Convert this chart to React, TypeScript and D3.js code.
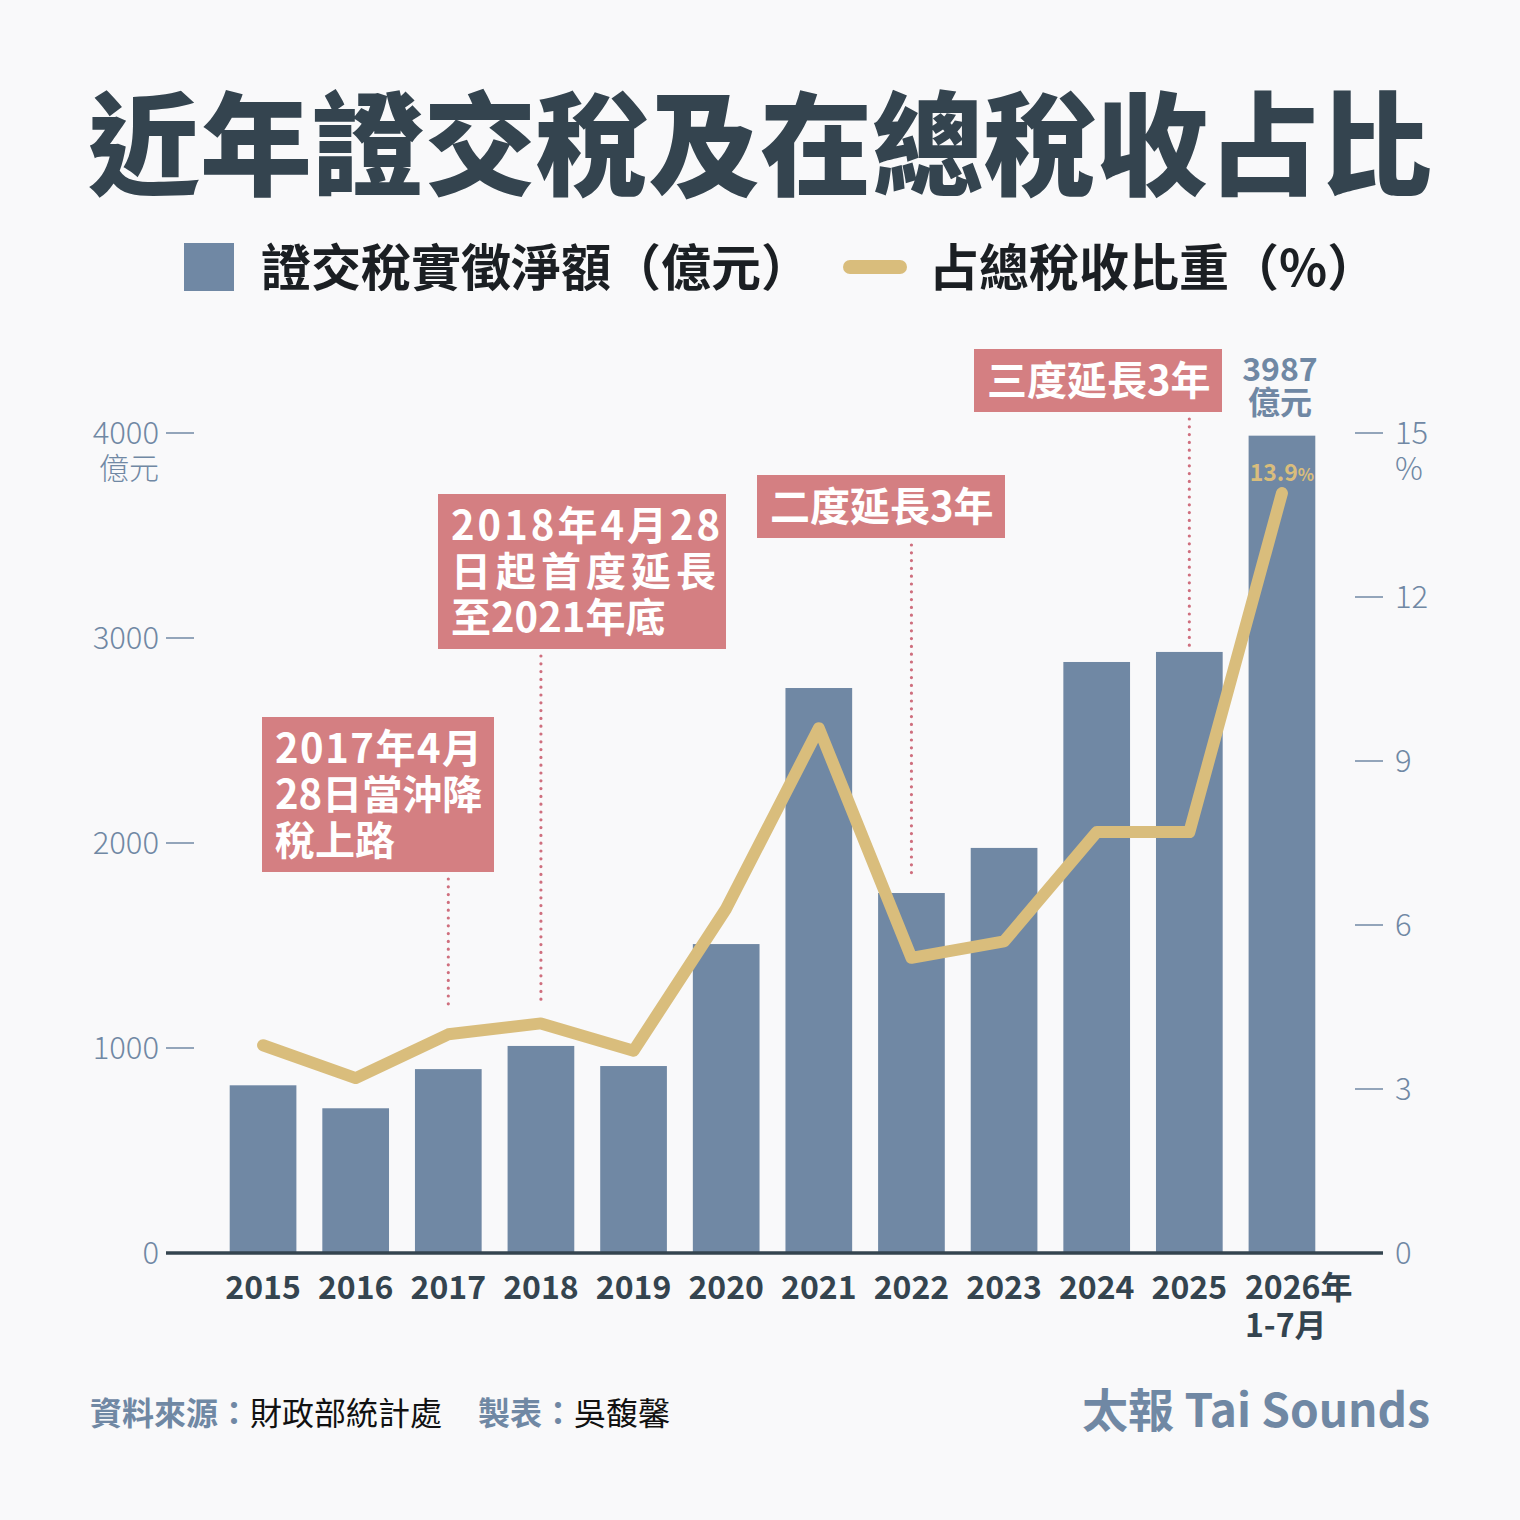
import { line, scaleBand, scaleLinear } from 'd3'

const WIDTH = 1520
const HEIGHT = 1520
const FONT = '"Noto Sans CJK TC", "Noto Sans CJK SC", "Noto Sans", sans-serif'

const BG = '#f9f9fa'
const DARK = '#34444f'
const BLUE = '#7088a4'
const GOLD = '#d9bd7c'
const PINK = '#d47f82'
const DOT = '#cf6f7e'

const years = ['2015', '2016', '2017', '2018', '2019', '2020', '2021', '2022', '2023', '2024', '2025', '2026']
const yearLabels = [
  ['2015'], ['2016'], ['2017'], ['2018'], ['2019'], ['2020'],
  ['2021'], ['2022'], ['2023'], ['2024'], ['2025'], ['2026年', '1-7月'],
]
// 證交稅實徵淨額（億元）
const taxValues = [818, 706, 897, 1010, 912, 1507, 2756, 1756, 1976, 2883, 2932, 3987]
// 占總稅收比重（%）
const shareValues = [3.8, 3.2, 4.0, 4.2, 3.7, 6.3, 9.6, 5.4, 5.7, 7.7, 7.7, 13.9]

const leftTicks = [0, 1000, 2000, 3000, 4000]
const rightTicks = [0, 3, 6, 9, 12, 15]

const noteYears = ['2017', '2018', '2022', '2025']
const noteLines = [
  ['2017年4月', '28日當沖降', '稅上路'],
  ['2018年4月28', '日起首度延長', '至2021年底'],
  ['二度延長3年'],
  ['三度延長3年'],
]

// box layout for the notes: left, top, width, text spacing, gap above the mark
const noteBoxes = [
  { x: 262, y: 717, w: 232, spacing: [1.5, 0, 0], gap: 29 },
  { x: 438, y: 494, w: 288, spacing: [3, 5, 0], gap: 18 },
  { x: 757, y: 475, w: 248, spacing: [0], gap: 13 },
  { x: 974, y: 349, w: 248, spacing: [0], gap: 4 },
]

const BASE_Y = 1253
const TOP_Y = 433
const AXIS_X0 = 166
const AXIS_X1 = 1383

export default function App() {
  const x = scaleBand<string>().domain(years).range([229.7, 1315.3]).paddingInner(0.28).paddingOuter(0)
  const yLeft = scaleLinear().domain([0, 4000]).range([BASE_Y, TOP_Y])
  const yRight = scaleLinear().domain([0, 15]).range([BASE_Y, TOP_Y])
  const cx = (year: string) => (x(year) ?? 0) + x.bandwidth() / 2

  const sharePath = line<number>()
    .x((_, i) => cx(years[i]))
    .y((v) => yRight(v))

  const last = years.length - 1
  const lastX = cx(years[last])

  return (
    <svg
      width={WIDTH}
      height={HEIGHT}
      viewBox={`0 0 ${WIDTH} ${HEIGHT}`}
      style={{ position: 'absolute', left: 0, top: 0, fontFamily: FONT }}
    >
      <rect width={WIDTH} height={HEIGHT} fill={BG} />

      <text x={88} y={187} fontSize={112} fontWeight={900} fill={DARK}>
        近年證交稅及在總稅收占比
      </text>

      {/* legend */}
      <rect x={184} y={243} width={50} height={48} fill={BLUE} />
      <text x={261} y={286} fontSize={50} fontWeight={700} fill="#1b1f23">
        證交稅實徵淨額（億元）
      </text>
      <line x1={850} x2={900} y1={267} y2={267} stroke={GOLD} strokeWidth={14} strokeLinecap="round" />
      <text x={929} y={286} fontSize={50} fontWeight={700} fill="#1b1f23">
        占總稅收比重（%）
      </text>

      {/* left axis */}
      {leftTicks.map((t) => (
        <g key={`l${t}`} fill={BLUE}>
          {t > 0 && <line x1={AXIS_X0} x2={194} y1={yLeft(t)} y2={yLeft(t)} stroke={BLUE} strokeWidth={1.5} />}
          <text x={159} y={yLeft(t) + 11} fontSize={31} fontWeight={300} textAnchor="end">
            {t}
          </text>
        </g>
      ))}
      <text x={159} y={yLeft(4000) + 46} fontSize={30} fontWeight={300} textAnchor="end" fill={BLUE}>
        億元
      </text>

      {/* right axis */}
      {rightTicks.map((t) => (
        <g key={`r${t}`} fill={BLUE}>
          {t > 0 && <line x1={1355} x2={AXIS_X1} y1={yRight(t)} y2={yRight(t)} stroke={BLUE} strokeWidth={1.5} />}
          <text x={1395} y={yRight(t) + 11} fontSize={31} fontWeight={300}>
            {t}
          </text>
        </g>
      ))}
      <text x={1395} y={yRight(15) + 47} fontSize={31} fontWeight={300} fill={BLUE}>
        %
      </text>

      {/* bars */}
      {taxValues.map((v, i) => (
        <rect
          key={years[i]}
          x={x(years[i])}
          y={yLeft(v)}
          width={x.bandwidth()}
          height={BASE_Y - yLeft(v)}
          fill={BLUE}
        />
      ))}

      {/* note boxes and dotted leaders */}
      {noteYears.map((year, n) => {
        const box = noteBoxes[n]
        const lines = noteLines[n]
        const h = lines.length * 46 + 17
        const i = years.indexOf(year)
        const endY = Math.min(yLeft(taxValues[i]), yRight(shareValues[i])) - box.gap
        return (
          <g key={year}>
            <line
              x1={cx(year)}
              x2={cx(year)}
              y1={box.y + h + 7}
              y2={endY}
              stroke={DOT}
              strokeWidth={3.2}
              strokeLinecap="round"
              strokeDasharray="0 7.8"
            />
            <rect x={box.x} y={box.y} width={box.w} height={h} fill={PINK} />
            {lines.map((s, k) => (
              <text
                key={k}
                x={box.x + 13}
                y={box.y + 46 + k * 46}
                fontSize={40}
                fontWeight={700}
                fill="#ffffff"
                letterSpacing={box.spacing[k]}
              >
                {s}
              </text>
            ))}
          </g>
        )
      })}

      {/* share line */}
      <path
        d={sharePath(shareValues) ?? ''}
        fill="none"
        stroke={GOLD}
        strokeWidth={12}
        strokeLinejoin="round"
        strokeLinecap="round"
      />

      {/* last-value labels */}
      <text x={lastX - 2} y={381} fontSize={32} fontWeight={700} fill={BLUE} textAnchor="middle">
        {taxValues[last]}
      </text>
      <text x={lastX - 2} y={414} fontSize={32} fontWeight={700} fill={BLUE} textAnchor="middle">
        億元
      </text>
      <text x={lastX} y={yRight(shareValues[last]) - 12} fontSize={23} fontWeight={700} fill={GOLD} textAnchor="middle">
        {shareValues[last]}
        <tspan fontSize={17}>%</tspan>
      </text>

      {/* baseline */}
      <line x1={AXIS_X0} x2={AXIS_X1} y1={BASE_Y} y2={BASE_Y} stroke={DARK} strokeWidth={3.5} />

      {/* x labels */}
      {yearLabels.map((parts, i) => {
        const multi = parts.length > 1
        return (
          <text
            key={years[i]}
            x={multi ? cx(years[i]) - 37 : cx(years[i])}
            y={1299}
            fontSize={32}
            fontWeight={700}
            fill={DARK}
            textAnchor={multi ? 'start' : 'middle'}
          >
            {parts.map((p, k) => (
              <tspan key={k} x={multi ? cx(years[i]) - 37 : cx(years[i])} dy={k === 0 ? 0 : 38}>
                {p}
              </tspan>
            ))}
          </text>
        )
      })}

      {/* footer */}
      <text x={90} y={1425} fontSize={32}>
        <tspan fill={BLUE} fontWeight={700}>資料來源：</tspan>
        <tspan fill="#111111" fontWeight={400}>財政部統計處</tspan>
        <tspan fill={BLUE} fontWeight={700} dx={36}>製表：</tspan>
        <tspan fill="#111111" fontWeight={400}>吳馥馨</tspan>
      </text>
      <text x={1430} y={1427} fontSize={46} fontWeight={700} fill={BLUE} textAnchor="end">
        太報 Tai Sounds
      </text>
    </svg>
  )
}
